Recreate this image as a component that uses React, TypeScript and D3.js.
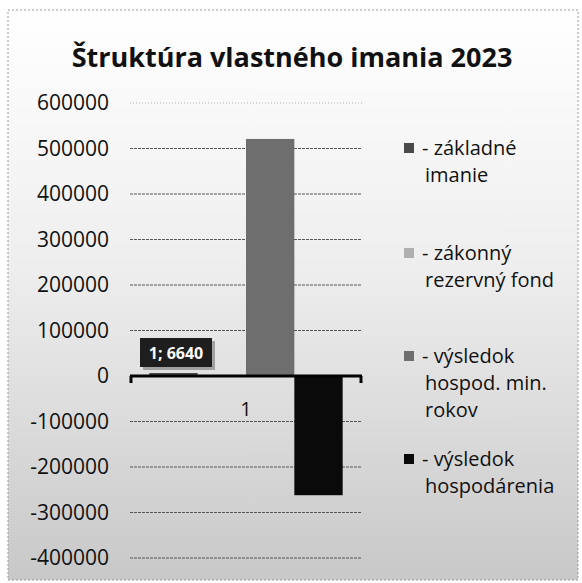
import React, { useEffect } from "react";
import * as d3 from "d3";

const categories = ["1"];
const seriesNames = [
  ["- základné", "imanie"],
  ["- zákonný", "rezervný fond"],
  ["- výsledok", "hospod. min.", "rokov"],
  ["- výsledok", "hospodárenia"],
];
const seriesValues = [6640, 700, 521000, -262000];
const seriesColors = ["#4a4a4a", "#b0b0b0", "#6e6e6e", "#0a0a0a"];
const yTicks = [600000, 500000, 400000, 300000, 200000, 100000, 0, -100000, -200000, -300000, -400000];
const title = "Štruktúra vlastného imania 2023";
const dataLabel = "1; 6640";

export default function App() {
  useEffect(() => {
    document.body.style.margin = "0";
  }, []);

  const W = 582, H = 583;
  const plotL = 130, plotR = 362;
  const y = d3.scaleLinear().domain([-400000, 600000]).range([558, 103]);
  const x0 = d3.scaleBand().domain(categories).range([plotL, plotR]).paddingInner(0).paddingOuter(0.1);
  const x1 = d3.scaleBand().domain(d3.range(seriesValues.length).map(String)).range([0, x0.bandwidth()]).paddingOuter(0);
  const font = "'Open Sans', 'DejaVu Sans', sans-serif";

  const legendTops = [148, 253, 356, 459];
  const lineH = 27;

  return (
    <svg width={W} height={H} style={{ display: "block" }} fontFamily={font}>
      <defs>
        <linearGradient id="bg" x1="0" y1="0" x2="0" y2="1">
          <stop offset="0%" stopColor="#ffffff" />
          <stop offset="45%" stopColor="#eeeeee" />
          <stop offset="100%" stopColor="#c8c8c8" />
        </linearGradient>
      </defs>
      <rect x={8} y={10} width={570} height={570} fill="url(#bg)" stroke="#9a9a9a" strokeWidth={1} strokeDasharray="2,2" />
      <text x={292} y={67} textAnchor="middle" fontSize={27} fontWeight="bold" fill="#111">{title}</text>

      {yTicks.map((t) => (
        <g key={t}>
          {t !== 0 && (
            <line x1={plotL} x2={plotR} y1={y(t)} y2={y(t)} stroke={t === 600000 ? "#b0b0b0" : "#555"} strokeWidth={1} strokeDasharray={t === 600000 ? "1,2" : "3,1"} />
          )}
          <text x={109} y={y(t)} dy="0.35em" textAnchor="end" fontSize={21} fill="#111">{t}</text>
        </g>
      ))}

      {categories.map((c) => (
        <g key={c} transform={`translate(${x0(c)},0)`}>
          {seriesValues.map((v, i) => (
            <rect key={i} x={x1(String(i))} width={x1.bandwidth()} y={y(Math.max(0, v))} height={Math.abs(y(v) - y(0))} fill={seriesColors[i]} />
          ))}
        </g>
      ))}

      <line x1={plotL} x2={plotR} y1={y(0)} y2={y(0)} stroke="#000" strokeWidth={3} />
      <line x1={plotL + 1} x2={plotL + 1} y1={y(0)} y2={y(0) + 7} stroke="#000" strokeWidth={3} />
      <line x1={plotR - 1} x2={plotR - 1} y1={y(0)} y2={y(0) + 7} stroke="#000" strokeWidth={3} />
      {categories.map((c) => (
        <text key={c} x={(x0(c) as number) + x0.bandwidth() / 2} y={409} dy="0.35em" textAnchor="middle" fontSize={20} fill="#111">{c}</text>
      ))}

      <rect x={143} y={341} width={72} height={29} fill="#777" opacity={0.6} />
      <rect x={140} y={338} width={72} height={29} fill="#1e1e1e" />
      <text x={176} y={353} dy="0.35em" textAnchor="middle" fontSize={16} fontWeight="bold" fill="#fff">{dataLabel}</text>

      {seriesNames.map((lines, i) => (
        <g key={i}>
          <rect x={404} y={legendTops[i] - 5} width={10} height={10} fill={seriesColors[i]} />
          {lines.map((l, j) => (
            <text key={j} x={j === 0 ? 422 : 425} y={legendTops[i] + j * lineH} dy="0.35em" fontSize={20} fill="#111">{l}</text>
          ))}
        </g>
      ))}
    </svg>
  );
}
